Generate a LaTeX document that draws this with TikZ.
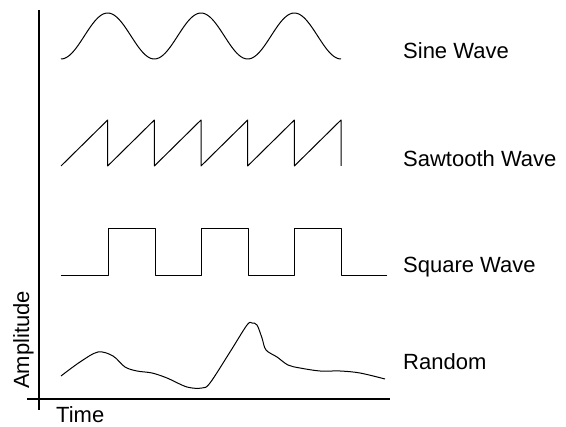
\documentclass[tikz,border=0pt]{standalone}
\usepackage{fontspec}
\setmainfont{Liberation Sans}
\usepackage{tikz}
\usetikzlibrary{positioning}
\tikzset{
  wave/.style={line width=1pt, line join=round},
  axis/.style={line width=2.4pt},
  lbl/.style={anchor=west, inner sep=0pt, font=\fontsize{22}{25}\selectfont},
  axlbl/.style={inner sep=0pt, font=\fontsize{22}{25}\selectfont}
}
\newcommand{\per}{93.333}

\begin{document}
\begin{tikzpicture}[x=1pt, y=-1pt]
\useasboundingbox (0,0) rectangle (566,427);
% axes
\coordinate (ytop) at (39,10); \coordinate (ybot) at (39,410);
\coordinate (xl) at (27,399); \coordinate (xr) at (390,399);
\draw[axis] (ytop) -- (ybot);
\draw[axis] (xl) -- (xr);
\node[axlbl, rotate=90, anchor=base west] (amp) at (29,389) {Amplitude};
\node[axlbl, anchor=base west] (time) at (56,423) {Time};
% sine
\draw[wave] plot[domain=61:341, samples=160, smooth] (\x, {36+23*cos((\x-61)*3.8571)});
% sawtooth
\draw[wave] (61,166) \foreach \i in {1,...,6} { -- ({61+46.667*\i},120) -- ({61+46.667*\i},166) };
% square
\draw[wave] (61,276) \foreach \i in {0,1,2} { -- ({108+\i*\per},276) -- ({108+\i*\per},229) -- ({155+\i*\per},229) -- ({155+\i*\per},276) } -- (387,276);
% random
\draw[wave] plot[smooth, tension=0.55] coordinates {(61,376) (80,362) (98,352) (113,356) (125,367) (137,371) (152,373) (167,378) (187,387) (202,388) (210,383) (230,352) (247,325) (252,323) (257,325) (262,338) (266,350) (277,357) (288,365) (300,368) (320,371) (340,371) (360,373) (385,379)};
% labels
\node[lbl] (sine) at (403,51) {Sine Wave};
\node[lbl] (saw) at (403,159) {Sawtooth Wave};
\node[lbl] (square) at (403,267) {Square Wave};
\node[lbl] (rand) at (403,362) {Random};
\end{tikzpicture}
\end{document}
